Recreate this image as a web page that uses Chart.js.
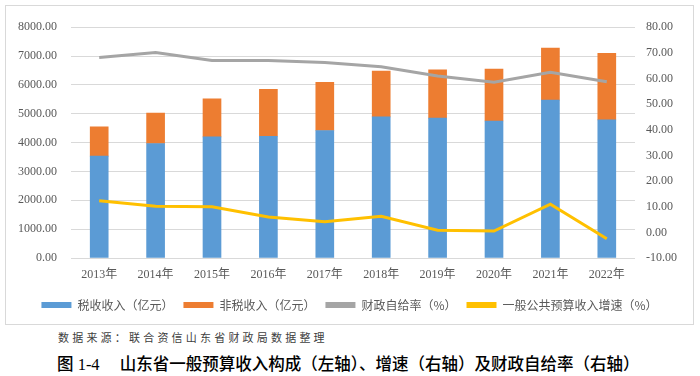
<!DOCTYPE html>
<html>
<head>
<meta charset="utf-8">
<script src="https://cdn.jsdelivr.net/npm/chart.js@4"></script>
<style>
  body { margin: 0; background: #fff; width: 700px; height: 376px; position: relative; overflow: hidden; }
  #box { position: absolute; left: 5px; top: 5px; width: 687px; height: 318px; border: 1px solid #d9d9d9; }
  #wrap { position: absolute; left: 6px; top: 6px; width: 687px; height: 315px; }
  #source { position: absolute; left: 58px; top: 329px; font: 11px "Noto Sans CJK SC", sans-serif; letter-spacing: 3.2px; color: #404040; white-space: nowrap; }
  #title { position: absolute; left: 57px; top: 351px; font: 500 16.5px "Liberation Serif", "Noto Sans CJK SC", serif; color: #000; white-space: nowrap; }
  #title span { margin-left: 20px; font-family: "Noto Sans CJK SC", sans-serif; }
</style>
</head>
<body>
<div id="box"></div>
<div id="wrap"><canvas id="revenueChart" width="687" height="315"></canvas></div>
<div id="source">数据来源：联合资信山东省财政局数据整理</div>
<div id="title">图 1-4<span>山东省一般预算收入构成（左轴）、增速（右轴）及财政自给率（右轴）</span></div>
<script>
const years = ['2013年', '2014年', '2015年', '2016年', '2017年', '2018年', '2019年', '2020年', '2021年', '2022年'];
// 亿元
const taxRevenue = [3530, 3970, 4200, 4220, 4420, 4890, 4850, 4750, 5470, 4790];
const nonTaxRevenue = [1020, 1050, 1320, 1630, 1670, 1590, 1670, 1800, 1810, 2300];
// %
const selfSufficiency = [68.2, 70.1, 67.0, 67.0, 66.2, 64.6, 61.0, 58.5, 62.4, 58.7];
const revenueGrowth = [12.3, 10.2, 10.0, 6.0, 4.1, 6.3, 0.8, 0.5, 11.0, -2.5];

const tickColor = '#595959';
const tickFont = { family: '"Liberation Serif", "Noto Sans CJK SC", serif', size: 12 };

const ctx = document.getElementById('revenueChart').getContext('2d');

new Chart(ctx, {
    type: 'bar',
    data: {
        labels: years,
        datasets: [
            {
                label: '税收收入（亿元）',
                data: taxRevenue,
                backgroundColor: '#5B9BD5',
                yAxisID: 'y',
                order: 2,
                barThickness: 18
            },
            {
                label: '非税收入（亿元）',
                data: nonTaxRevenue,
                backgroundColor: '#ED7D31',
                yAxisID: 'y',
                order: 2,
                barThickness: 18
            },
            {
                type: 'line',
                label: '财政自给率（%）',
                data: selfSufficiency,
                borderColor: '#A5A5A5',
                backgroundColor: '#A5A5A5',
                borderWidth: 3,
                pointRadius: 0,
                tension: 0,
                yAxisID: 'y1',
                order: 1
            },
            {
                type: 'line',
                label: '一般公共预算收入增速（%）',
                data: revenueGrowth,
                borderColor: '#FFC000',
                backgroundColor: '#FFC000',
                borderWidth: 3,
                pointRadius: 0,
                tension: 0,
                yAxisID: 'y1',
                order: 1
            }
        ]
    },
    options: {
        responsive: false,
        animation: false,
        layout: { padding: { top: 17, left: 0, right: 0, bottom: 0 } },
        scales: {
            x: {
                stacked: true,
                grid: { display: false, drawTicks: false },
                border: { display: false },
                ticks: { color: tickColor, font: tickFont, padding: 10, maxRotation: 0 },
                afterFit: (scale) => { scale.height = 31; }
            },
            y: {
                stacked: true,
                position: 'left',
                min: 0,
                max: 8000,
                grid: { color: '#d9d9d9', drawTicks: false },
                border: { display: false },
                ticks: {
                    stepSize: 1000,
                    color: tickColor,
                    font: tickFont,
                    padding: 14,
                    callback: (v) => v.toFixed(2)
                },
                afterFit: (scale) => { scale.width = 65; }
            },
            y1: {
                position: 'right',
                min: -10,
                max: 80,
                grid: { display: false, drawTicks: false },
                border: { display: false },
                ticks: {
                    stepSize: 10,
                    color: tickColor,
                    font: tickFont,
                    padding: 11,
                    callback: (v) => v.toFixed(2)
                },
                afterFit: (scale) => { scale.width = 58; }
            }
        },
        plugins: {
            tooltip: { enabled: false },
            legend: {
                position: 'bottom',
                labels: {
                    boxWidth: 30,
                    boxHeight: 6,
                    padding: 10,
                    color: tickColor,
                    font: { family: '"Noto Sans CJK SC", sans-serif', size: 12 },
                    sort: (a, b) => a.datasetIndex - b.datasetIndex,
                    generateLabels: (chart) => {
                        const items = Chart.defaults.plugins.legend.labels.generateLabels(chart);
                        items.forEach(item => {
                            item.lineWidth = 0;
                            item.fillStyle = chart.data.datasets[item.datasetIndex].backgroundColor;
                        });
                        return items;
                    }
                }
            }
        }
    }
});
</script>
</body>
</html>
